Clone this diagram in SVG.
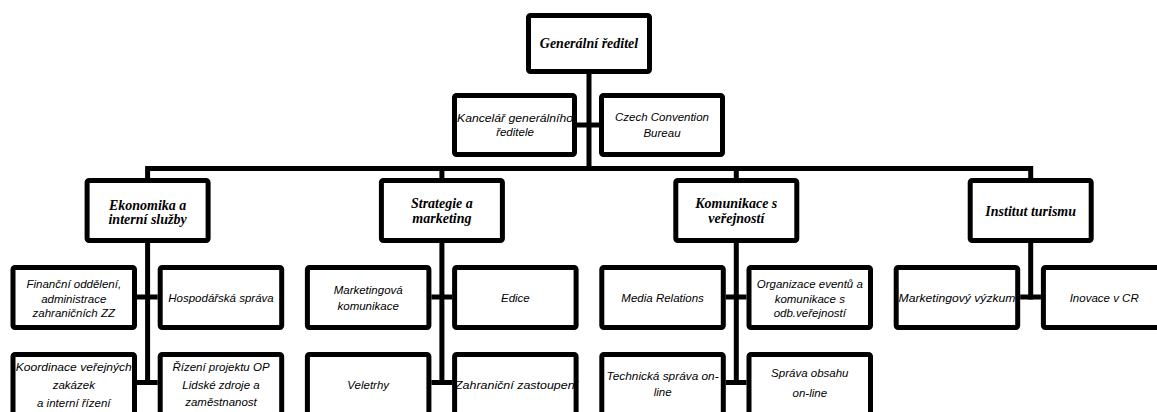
<svg xmlns="http://www.w3.org/2000/svg" width="1157" height="412" viewBox="0 0 1157 412">
<style>
.box{fill:#fff;stroke:#000;stroke-width:5}
.ln{fill:none;stroke:#000;stroke-width:5;stroke-linejoin:miter}
.h{font-family:"Liberation Serif",serif;font-weight:bold;font-style:italic;font-size:14px;text-anchor:middle;fill:#000}
.t{font-family:"Liberation Sans",Arial,sans-serif;font-style:italic;font-size:11.5px;text-anchor:middle;fill:#000}
</style>
<rect width="1157" height="412" fill="#fff"/>
<g id="connectors">
<path class="ln" d="M589 74V168.5"/>
<path class="ln" d="M577 125H599"/>
<path class="ln" d="M147.6 178V168.5H1030.7V178"/>
<path class="ln" d="M441.9 168.5V178M736.3 168.5V178"/>
<path class="ln" d="M147.6 243V385M441.9 243V385M736.3 243V385M1030.7 243V299.5"/>
<path class="ln" d="M137 297H157.7M431.4 297H452.1M725.8 297H746.5M1020.2 297H1040.9"/>
<path class="ln" d="M137 382.5H157.7M431.4 382.5H452.1M725.8 382.5H746.5"/>
</g>
<g id="n-generalni">
<rect class="box" x="528.5" y="15.5" width="121" height="56" rx="2"/>
<text class="h" x="589" y="48">Generální ředitel</text>
</g>
<g id="n-kancelar">
<rect class="box" x="454.5" y="95.5" width="120" height="59" rx="2"/>
<text class="t" x="515" y="121.5" textLength="116" lengthAdjust="spacingAndGlyphs">Kancelář generálního</text>
<text class="t" x="515" y="136">ředitele</text>
</g>
<g id="n-ccb">
<rect class="box" x="601.5" y="95.5" width="121" height="59" rx="2"/>
<text class="t" x="662" y="121">Czech Convention</text>
<text class="t" x="662" y="136.5">Bureau</text>
</g>
<g id="n-ekonomika">
<rect class="box" x="87.1" y="180.5" width="121" height="60" rx="2"/>
<text class="h" x="147.6" y="209.5">Ekonomika a</text>
<text class="h" x="147.6" y="224">interní služby</text>
</g>
<g id="n-strategie">
<rect class="box" x="381.4" y="180.5" width="121" height="60" rx="2"/>
<text class="h" x="441.9" y="208">Strategie a</text>
<text class="h" x="441.9" y="222.5">marketing</text>
</g>
<g id="n-komunikace">
<rect class="box" x="675.8" y="180.5" width="121" height="60" rx="2"/>
<text class="h" x="736.3" y="208">Komunikace s</text>
<text class="h" x="736.3" y="222.5">veřejností</text>
</g>
<g id="n-institut">
<rect class="box" x="970.2" y="180.5" width="121" height="60" rx="2"/>
<text class="h" x="1030.7" y="216" font-size="13.5">Institut turismu</text>
</g>
<g id="n-financni">
<rect class="box" x="13" y="267.5" width="121.5" height="60" rx="2"/>
<text class="t" x="73.8" y="288">Finanční oddělení,</text>
<text class="t" x="73.8" y="302.5">administrace</text>
<text class="t" x="73.8" y="317">zahraničních ZZ</text>
</g>
<g id="n-hospodarska">
<rect class="box" x="160.2" y="267.5" width="121.5" height="60" rx="2"/>
<text class="t" x="221" y="301.5">Hospodářská správa</text>
</g>
<g id="n-mkt-kom">
<rect class="box" x="307.4" y="267.5" width="121.5" height="60" rx="2"/>
<text class="t" x="368.2" y="294">Marketingová</text>
<text class="t" x="368.2" y="309.5">komunikace</text>
</g>
<g id="n-edice">
<rect class="box" x="454.6" y="267.5" width="121.5" height="60" rx="2"/>
<text class="t" x="515.4" y="301.5">Edice</text>
</g>
<g id="n-media">
<rect class="box" x="601.8" y="267.5" width="121.5" height="60" rx="2"/>
<text class="t" x="662.6" y="301.5">Media Relations</text>
</g>
<g id="n-organizace">
<rect class="box" x="749" y="267.5" width="121.5" height="60" rx="2"/>
<text class="t" x="809.8" y="288">Organizace eventů a</text>
<text class="t" x="809.8" y="302.5">komunikace s</text>
<text class="t" x="809.8" y="317">odb.veřejností</text>
</g>
<g id="n-mkt-vyzkum">
<rect class="box" x="896.2" y="267.5" width="121.5" height="60" rx="2"/>
<text class="t" x="957" y="301.5" textLength="117" lengthAdjust="spacingAndGlyphs">Marketingový výzkum</text>
</g>
<g id="n-inovace">
<rect class="box" x="1043.4" y="267.5" width="121.5" height="60" rx="2"/>
<text class="t" x="1104.2" y="301.5">Inovace v CR</text>
</g>
<g id="n-koordinace">
<rect class="box" x="13" y="354.5" width="121.5" height="60" rx="2"/>
<text class="t" x="73.8" y="370.5" textLength="116" lengthAdjust="spacingAndGlyphs">Koordinace veřejných</text>
<text class="t" x="73.8" y="389">zakázek</text>
<text class="t" x="73.8" y="407">a interní řízení</text>
</g>
<g id="n-rizeni">
<rect class="box" x="160.2" y="354.5" width="121.5" height="60" rx="2"/>
<text class="t" x="221" y="370.5">Řízení projektu OP</text>
<text class="t" x="221" y="388.5">Lidské zdroje a</text>
<text class="t" x="221" y="406">zaměstnanost</text>
</g>
<g id="n-veletrhy">
<rect class="box" x="307.4" y="354.5" width="121.5" height="60" rx="2"/>
<text class="t" x="368.2" y="389">Veletrhy</text>
</g>
<g id="n-zahranicni">
<rect class="box" x="454.6" y="354.5" width="121.5" height="60" rx="2"/>
<text class="t" x="516.5" y="389" textLength="123" lengthAdjust="spacingAndGlyphs">Zahraniční zastoupení</text>
</g>
<g id="n-technicka">
<rect class="box" x="601.8" y="354.5" width="121.5" height="60" rx="2"/>
<text class="t" x="662.6" y="379.5" textLength="112" lengthAdjust="spacingAndGlyphs">Technická správa on-</text>
<text class="t" x="662.6" y="395.5">line</text>
</g>
<g id="n-sprava">
<rect class="box" x="749" y="354.5" width="121.5" height="60" rx="2"/>
<text class="t" x="809.8" y="377">Správa obsahu</text>
<text class="t" x="809.8" y="397">on-line</text>
</g>
</svg>
